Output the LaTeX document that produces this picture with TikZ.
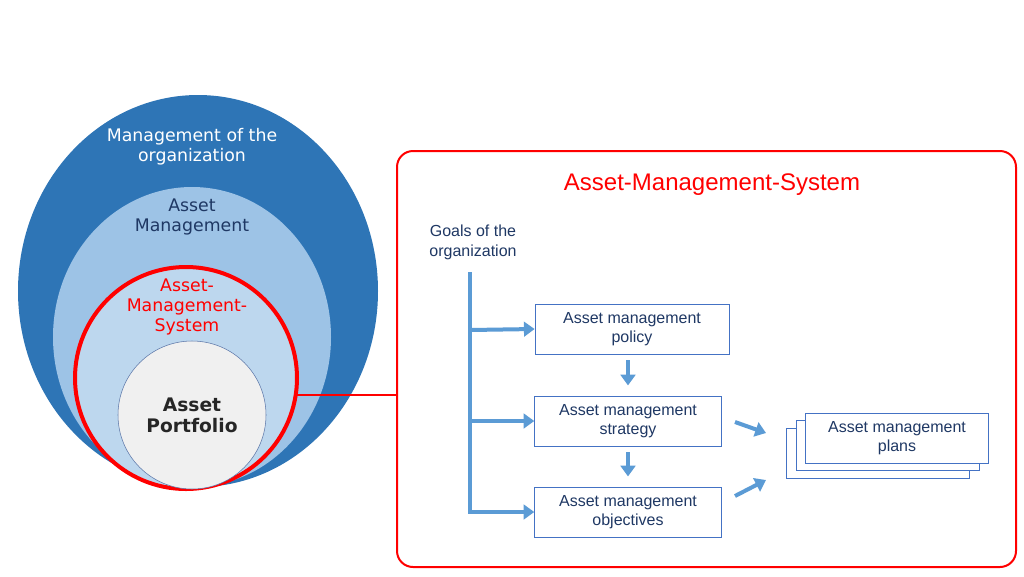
\documentclass[tikz,border=0pt]{standalone}
\usepackage{fontspec}
\setmainfont{Liberation Sans}
\newfontfamily\verd{DejaVu Sans}
\usetikzlibrary{positioning,arrows.meta}
\definecolor{darkblue}{RGB}{46,117,182}
\definecolor{midblue}{RGB}{157,195,230}
\definecolor{lightblue}{RGB}{189,215,238}
\definecolor{navy}{RGB}{31,56,100}
\definecolor{arrowblue}{RGB}{91,155,213}
\definecolor{boxline}{RGB}{68,114,196}
\tikzset{
  ambox/.style={draw=boxline, fill=white, line width=0.6pt, minimum height=37.5pt, align=center, font=\fontsize{12}{14}\selectfont, text=navy, inner sep=2pt},
  blueflow/.style={draw=arrowblue, line width=3pt, -{Triangle[length=8pt,width=11pt]}},
}
\begin{document}
\begin{tikzpicture}[x=0.75pt,y=0.75pt,yscale=-1,xscale=1]
\useasboundingbox (0,0) rectangle (1024,576);

% circles
\fill[darkblue] (198,291) ellipse (180 and 196);
\fill[midblue] (192,337) ellipse (139 and 150);
\draw[red, line width=3pt, fill=lightblue] (186,378) circle (111);
\draw[boxline!60!gray, fill=gray!12] (192,415) circle (74);

\node[font=\verd\fontsize{13}{15}\selectfont, text=white, align=center] (mgmt) at (192,147) {Management of the\\organization};
\node[font=\verd\fontsize{13}{15}\selectfont, text=navy, align=center] (am) at (192,217) {Asset\\Management};
\node[font=\verd\fontsize{13}{15}\selectfont, text=red, align=center] (ams) at (187,307) {Asset-\\Management-\\System};
\node[font=\verd\bfseries\fontsize{14}{16}\selectfont, text=black!85, align=center] (port) at (192,415) {Asset\\Portfolio};

% system box
\coordinate (circedge) at (297,395);
\coordinate (boxedge) at (397,395);
\draw[red, line width=2pt] (circedge) -- (boxedge);
\draw[red, line width=1.5pt, rounded corners=12pt, fill=white] (397,151) rectangle (1016,567);
\node[text=red, font=\fontsize{18}{20}\selectfont] (title) at (712,185) {Asset-Management-System};
\node[text=navy, align=center, font=\fontsize{12}{15}\selectfont] (goals) at (473,242) {Goals of the\\organization};

\node[ambox, minimum width=145.5pt] (policy) at (632,329) {Asset management\\policy};
\node[ambox, minimum width=140pt] (strategy) at (628,421) {Asset management\\strategy};
\node[ambox, minimum width=140pt] (objectives) at (628,512) {Asset management\\objectives};

\node[ambox, minimum width=137pt] (plans3) at (878,453) {\phantom{x}};
\node[ambox, minimum width=137pt] (plans2) at (888,445) {\phantom{x}};
\node[ambox, minimum width=137pt] (plans) at (897,438) {Asset management\\plans};

% flow
\coordinate (top) at (470,272);
\coordinate (bot) at (470,514);
\draw[arrowblue, line width=3pt] (top) -- (bot);
\draw[blueflow] (470,330) -- (policy.west);
\draw[blueflow] (470,421) -- (strategy.west);
\draw[blueflow] (470,512) -- (objectives.west);
\draw[blueflow] (policy.south -| strategy) ++(0,6) -- ++(0,25);
\draw[blueflow] (strategy.south) ++(0,6) -- ++(0,24);
\draw[blueflow] (735,422) -- (766,433);
\draw[blueflow] (735,496) -- (766,480);
\end{tikzpicture}
\end{document}
